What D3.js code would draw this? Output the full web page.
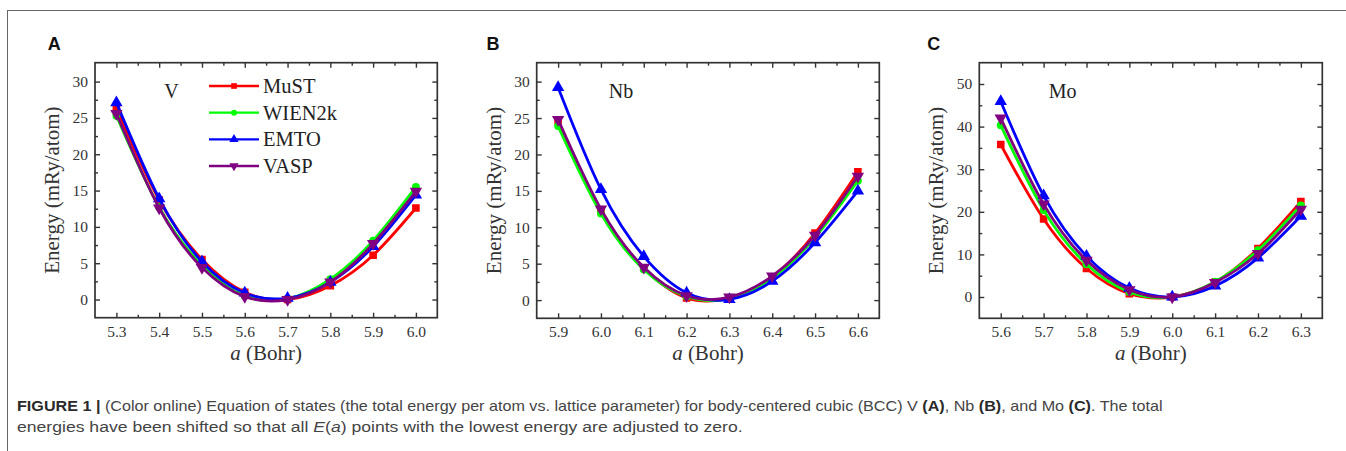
<!DOCTYPE html>
<html><head><meta charset="utf-8">
<script src="https://cdn.jsdelivr.net/npm/d3@7"></script>
<style>body{margin:0;background:#fff} svg{display:block}</style>
</head><body>
<svg id="c" width="1346" height="451"></svg>
<script>
// ---------------- DATA ----------------
const seriesNames = ["MuST", "WIEN2k", "EMTO", "VASP"];

// Panel A: V
const aV = [5.3, 5.4, 5.5, 5.6, 5.7, 5.8, 5.9, 6.0];
const V_MuST   = [26.3, 13.7, 5.5, 1.0, 0.0, 1.9, 6.1, 12.6];
const V_WIEN2k = [25.3, 12.7, 4.7, 0.5, 0.1, 2.8, 8.1, 15.5];
const V_EMTO   = [27.1, 13.9, 5.2, 0.9, 0.2, 2.4, 7.3, 14.4];
const V_VASP   = [25.6, 12.6, 4.4, 0.4, 0.0, 2.4, 7.7, 14.9];

// Panel B: Nb
const aNb = [5.9, 6.0, 6.1, 6.2, 6.3, 6.4, 6.5, 6.6];
const Nb_MuST   = [24.6, 12.3, 4.4, 0.3, 0.3, 3.2, 9.2, 17.6];
const Nb_WIEN2k = [23.9, 11.9, 4.2, 0.5, 0.2, 3.0, 8.6, 16.4];
const Nb_EMTO   = [29.2, 15.2, 6.0, 1.0, 0.1, 2.6, 7.9, 15.0];
const Nb_VASP   = [24.8, 12.5, 4.5, 0.6, 0.4, 3.3, 8.9, 17.0];

// Panel C: Mo
const aMo = [5.6, 5.7, 5.8, 5.9, 6.0, 6.1, 6.2, 6.3];
const Mo_MuST   = [35.8, 18.3, 6.7, 0.8, 0.0, 3.5, 11.4, 22.4];
const Mo_WIEN2k = [40.3, 20.4, 7.7, 1.2, 0.0, 3.6, 11.0, 21.5];
const Mo_EMTO   = [45.9, 23.8, 9.6, 2.1, 0.0, 2.6, 9.2, 19.0];
const Mo_VASP   = [42.0, 21.8, 8.6, 1.7, 0.0, 3.4, 10.2, 20.6];

// Tick labels
const xTicksV  = [5.3, 5.4, 5.5, 5.6, 5.7, 5.8, 5.9, 6.0];
const xTicksNb = [5.9, 6.0, 6.1, 6.2, 6.3, 6.4, 6.5, 6.6];
const xTicksMo = [5.6, 5.7, 5.8, 5.9, 6.0, 6.1, 6.2, 6.3];
const yTicksVNb = [0, 5, 10, 15, 20, 25, 30];
const yTicksMo  = [0, 10, 20, 30, 40, 50];

const panelLetters = ["A", "B", "C"];
const elementNames = ["V", "Nb", "Mo"];

// ---------------- STYLE ----------------
const colors = ["#ff0000", "#00ff00", "#0000ff", "#800080"];
const shapes = ["square", "circle", "tri", "tridown"];
const serif = "Liberation Serif";
const sans = "Liberation Sans";
const axisColor = "#333";

const svg = d3.select("#c");

// outer partial frame
svg.append("line").attr("x1", 7).attr("x2", 1346).attr("y1", 10.5).attr("y2", 10.5)
  .attr("stroke", "#666").attr("stroke-width", 1);
svg.append("line").attr("x1", 7.5).attr("x2", 7.5).attr("y1", 10).attr("y2", 451)
  .attr("stroke", "#666").attr("stroke-width", 1);

function symbolPath(shape, size) {
  if (shape === "square") return d3.symbol(d3.symbolSquare, size)();
  if (shape === "circle") return d3.symbol(d3.symbolCircle, size * 0.85)();
  return d3.symbol(d3.symbolTriangle, size * 1.15)();
}

const panels = [
  { letter: panelLetters[0], el: elementNames[0], a: aV, ys: [V_MuST, V_WIEN2k, V_EMTO, V_VASP],
    xDom: [5.25, 6.05], yDom: [-2.5, 32.6], left: 95, right: 437.3, top: 62.7, bottom: 317.7,
    xTicks: xTicksV, yTicks: yTicksVNb, yMinorStep: 2.5, letterX: 47.7, elX: 171.5, legend: true },
  { letter: panelLetters[1], el: elementNames[1], a: aNb, ys: [Nb_MuST, Nb_WIEN2k, Nb_EMTO, Nb_VASP],
    xDom: [5.85, 6.65], yDom: [-2.5, 32.6], left: 536.7, right: 879.3, top: 62.7, bottom: 318.3,
    xTicks: xTicksNb, yTicks: yTicksVNb, yMinorStep: 2.5, letterX: 486.5, elX: 621, legend: false },
  { letter: panelLetters[2], el: elementNames[2], a: aMo, ys: [Mo_MuST, Mo_WIEN2k, Mo_EMTO, Mo_VASP],
    xDom: [5.55, 6.35], yDom: [-5, 55], left: 979.3, right: 1322.3, top: 62.7, bottom: 318.3,
    xTicks: xTicksMo, yTicks: yTicksMo, yMinorStep: 5, letterX: 927.3, elX: 1062.7, legend: false }
];

function styleAxis(sel, size) {
  sel.attr("font-family", serif);
  sel.select(".domain").remove();
  sel.selectAll("line").attr("stroke", axisColor).attr("stroke-width", 1.4);
  sel.selectAll("text").attr("font-family", serif).attr("font-size", size).attr("fill", axisColor);
}

panels.forEach(p => {
  const g = svg.append("g");
  const x = d3.scaleLinear().domain(p.xDom).range([p.left, p.right]);
  const y = d3.scaleLinear().domain(p.yDom).range([p.bottom, p.top]);

  const xMinor = [];
  for (let i = 0; i < p.xTicks.length - 1; i++) xMinor.push((p.xTicks[i] + p.xTicks[i + 1]) / 2);
  const yMinor = [];
  for (let i = 0; i < p.yTicks.length - 1; i++) yMinor.push(p.yTicks[i] + p.yMinorStep);

  g.append("g").attr("transform", `translate(0,${p.bottom})`)
    .call(d3.axisBottom(x).tickValues(p.xTicks).tickSize(-5).tickSizeOuter(0).tickPadding(8).tickFormat(d3.format(".1f")))
    .call(s => styleAxis(s, 15.5));
  g.append("g").attr("transform", `translate(0,${p.bottom})`)
    .call(d3.axisBottom(x).tickValues(xMinor).tickSize(-3).tickSizeOuter(0).tickFormat(""))
    .call(s => styleAxis(s, 15.5));
  g.append("g").attr("transform", `translate(0,${p.top})`)
    .call(d3.axisTop(x).tickValues(p.xTicks).tickSize(-5).tickSizeOuter(0).tickFormat(""))
    .call(s => styleAxis(s, 15.5));
  g.append("g").attr("transform", `translate(0,${p.top})`)
    .call(d3.axisTop(x).tickValues(xMinor).tickSize(-3).tickSizeOuter(0).tickFormat(""))
    .call(s => styleAxis(s, 15.5));
  g.append("g").attr("transform", `translate(${p.left},0)`)
    .call(d3.axisLeft(y).tickValues(p.yTicks).tickSize(-5).tickSizeOuter(0).tickPadding(7).tickFormat(d3.format("d")))
    .call(s => styleAxis(s, 15.5));
  g.append("g").attr("transform", `translate(${p.left},0)`)
    .call(d3.axisLeft(y).tickValues(yMinor).tickSize(-3).tickSizeOuter(0).tickFormat(""))
    .call(s => styleAxis(s, 15.5));
  g.append("g").attr("transform", `translate(${p.right},0)`)
    .call(d3.axisRight(y).tickValues(p.yTicks).tickSize(-5).tickSizeOuter(0).tickFormat(""))
    .call(s => styleAxis(s, 15.5));
  g.append("g").attr("transform", `translate(${p.right},0)`)
    .call(d3.axisRight(y).tickValues(yMinor).tickSize(-3).tickSizeOuter(0).tickFormat(""))
    .call(s => styleAxis(s, 15.5));

  g.append("rect").attr("x", p.left).attr("y", p.top)
    .attr("width", p.right - p.left).attr("height", p.bottom - p.top)
    .attr("fill", "none").attr("stroke", axisColor).attr("stroke-width", 1.7);

  const clipId = "clip" + p.letter;
  svg.append("clipPath").attr("id", clipId).append("rect")
    .attr("x", p.left).attr("y", p.top).attr("width", p.right - p.left).attr("height", p.bottom - p.top);

  const line = d3.line().x(d => x(d[0])).y(d => y(d[1])).curve(d3.curveNatural);
  p.ys.forEach((vals, si) => {
    const pts = p.a.map((a, i) => [a, vals[i]]);
    const sg = g.append("g").attr("clip-path", `url(#${clipId})`);
    sg.append("path").attr("d", line(pts)).attr("fill", "none")
      .attr("stroke", colors[si]).attr("stroke-width", 2.8);
    sg.selectAll("path.m").data(pts).join("path").attr("class", "m")
      .attr("d", symbolPath(shapes[si], 58))
      .attr("transform", d => `translate(${x(d[0])},${y(d[1])})` + (shapes[si] === "tridown" ? " rotate(180)" : ""))
      .attr("fill", colors[si]);
  });

  svg.append("text").attr("x", p.letterX).attr("y", 49.5).text(p.letter)
    .attr("font-family", sans).attr("font-weight", "bold").attr("font-size", 18).attr("fill", "#111");

  g.append("text").attr("x", p.elX).attr("y", 90.5).attr("dy", "0.35em").attr("text-anchor", "middle")
    .text(p.el).attr("font-family", serif).attr("font-size", 20).attr("fill", "#222");

  const xt = g.append("text").attr("x", (p.left + p.right) / 2).attr("y", 360).attr("text-anchor", "middle")
    .attr("font-family", serif).attr("font-size", 21).attr("fill", axisColor);
  xt.append("tspan").attr("font-style", "italic").text("a");
  xt.append("tspan").text(" (Bohr)");

  g.append("text").attr("transform", `translate(${p.left - 43.5},${(p.top + p.bottom) / 2}) rotate(-90)`)
    .attr("dy", "0.35em").attr("text-anchor", "middle")
    .attr("font-family", serif).attr("font-size", 21).attr("fill", axisColor)
    .text("Energy (mRy/atom)");

  if (p.legend) {
    const rowY = [86, 112.7, 139.3, 166];
    seriesNames.forEach((name, si) => {
      const lg = g.append("g");
      lg.append("line").attr("x1", 209).attr("x2", 259).attr("y1", rowY[si]).attr("y2", rowY[si])
        .attr("stroke", colors[si]).attr("stroke-width", 2.3);
      lg.append("path").attr("d", symbolPath(shapes[si], 32))
        .attr("transform", `translate(234,${rowY[si]})` + (shapes[si] === "tridown" ? " rotate(180)" : ""))
        .attr("fill", colors[si]);
      lg.append("text").attr("x", 263).attr("y", rowY[si]).attr("dy", "0.35em").text(name)
        .attr("font-family", serif).attr("font-size", 20.5).attr("fill", "#222");
    });
  }
});

// ---------------- CAPTION ----------------
const captionLines = [
  [["FIGURE 1 | ", "b"], ["(Color online) Equation of states (the total energy per atom vs. lattice parameter) for body-centered cubic (BCC) V ", ""],
   ["(A)", "b"], [", Nb ", ""], ["(B)", "b"], [", and Mo ", ""], ["(C)", "b"], [". The total", ""]],
  [["energies have been shifted so that all ", ""], ["E", "i"], ["(", ""], ["a", "i"], [") points with the lowest energy are adjusted to zero.", ""]]
];
const captionY = [411, 432];
const captionWidths = [1146, 726];
captionLines.forEach((parts, li) => {
  const t = svg.append("text").attr("x", 0).attr("y", 0)
    .attr("font-family", sans).attr("font-size", 15).attr("fill", "#444");
  parts.forEach(([s, st]) => {
    const ts = t.append("tspan").text(s);
    if (st === "b") ts.attr("font-weight", "bold").attr("fill", "#2a2a2a");
    if (st === "i") ts.attr("font-style", "italic");
  });
  const w = t.node().getComputedTextLength();
  const k = captionWidths[li] / w;
  t.attr("transform", `translate(17,${captionY[li]}) scale(${k},1)`);
});
</script>
</body></html>
